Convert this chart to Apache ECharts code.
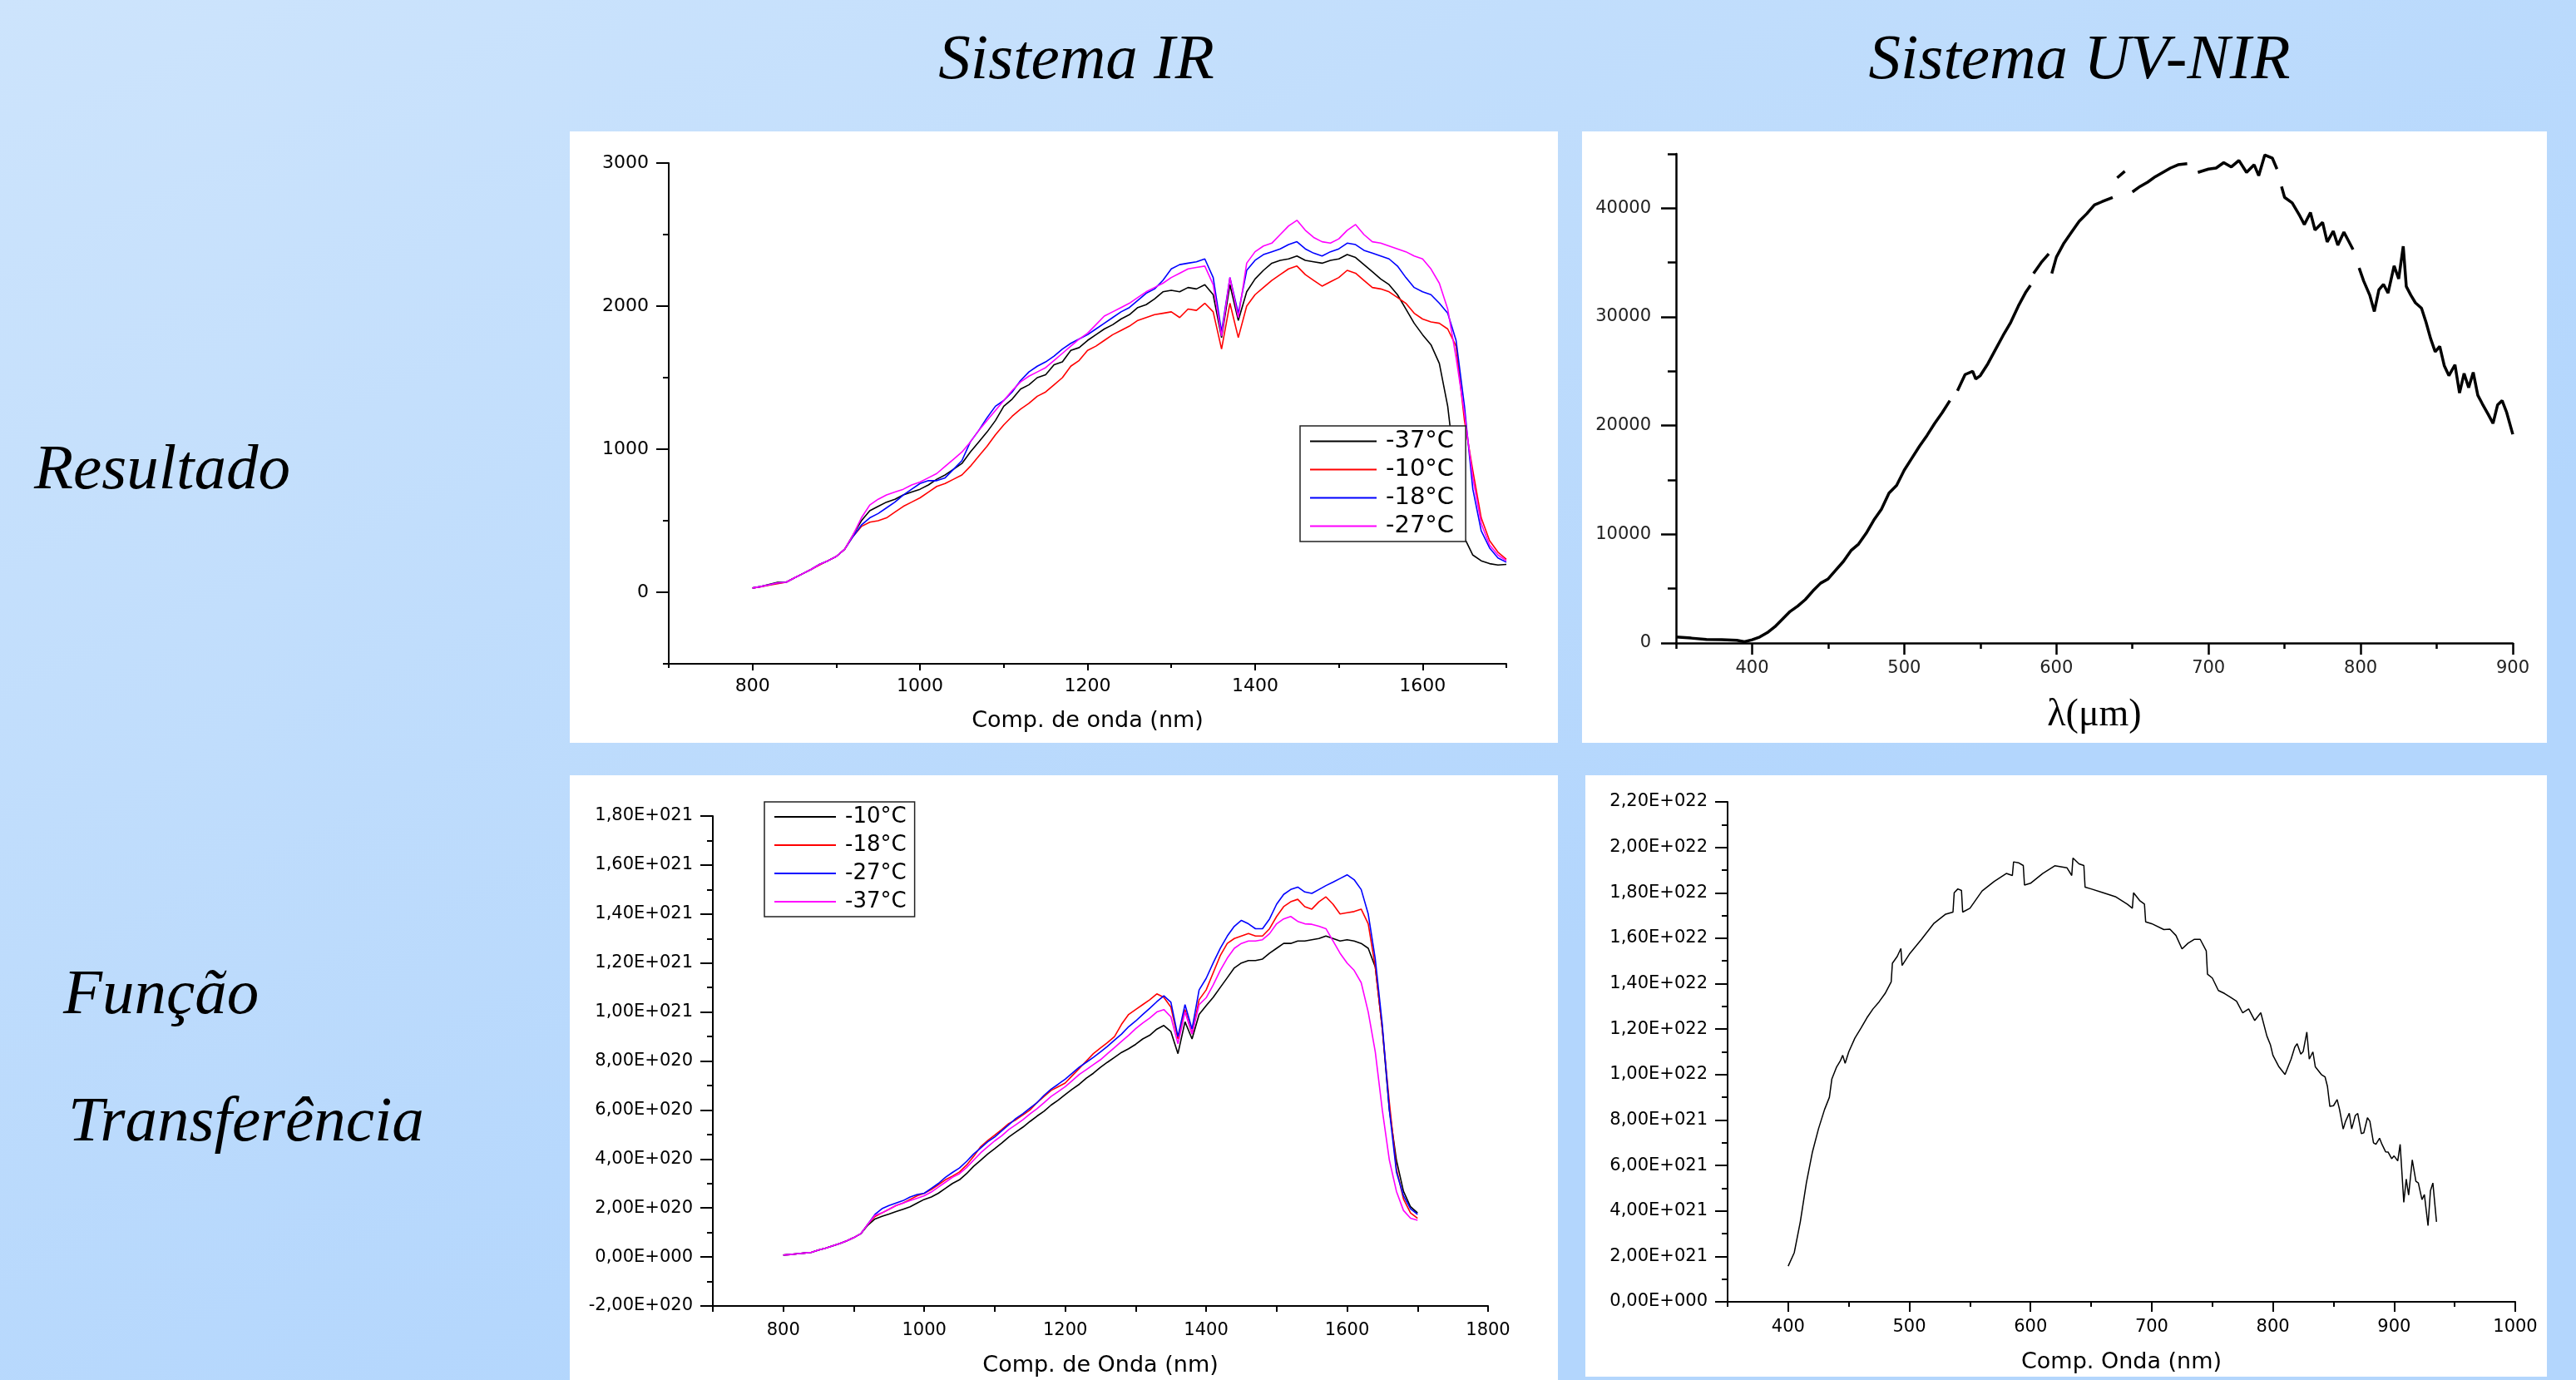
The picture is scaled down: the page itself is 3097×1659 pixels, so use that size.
<!DOCTYPE html>
<html>
<head>
<meta charset="utf-8">
<script src="https://cdn.jsdelivr.net/npm/echarts@6/dist/echarts.min.js"></script>
<style>
html,body{margin:0;padding:0;width:3097px;height:1659px;overflow:hidden;background:#c4dffc}
#c{width:3097px;height:1659px}
</style>
</head>
<body>
<div id="c"></div>
<script>
// ---------------- DATA ----------------
// IR system wavelengths (nm)
const irWavelength = [800,810,820,830,840,850,860,870,880,890,900,910,920,930,940,950,960,970,980,990,
1000,1010,1020,1030,1040,1050,1060,1070,1080,1090,1100,1110,1120,1130,1140,1150,1160,1170,1180,1190,
1200,1210,1220,1230,1240,1250,1260,1270,1280,1290,1300,1310,1320,1330,1340,1350,1360,1370,1380,1390,
1400,1410,1420,1430,1440,1450,1460,1470,1480,1490,1500,1510,1520,1530,1540,1550,1560,1570,1580,1590,
1600,1610,1620,1630,1640,1650,1660,1670,1680,1690,1700];

// Resultado – Sistema IR (counts)
const resIR_m37 = [30,40,55,70,70,100,130,160,195,220,
250,300,400,500,570,600,630,650,680,700,
720,750,790,820,860,900,980,1050,1120,1200,
1300,1350,1420,1450,1500,1520,1590,1610,1690,1710,
1760,1800,1840,1870,1910,1940,1990,2010,2050,2100,
2110,2100,2130,2120,2150,2080,1780,2150,1900,2100,
2190,2250,2300,2320,2330,2350,2320,2310,2300,2320,
2330,2360,2340,2290,2240,2190,2150,2080,1980,1880,
1800,1730,1600,1300,800,380,260,220,200,190,195];
const resIR_m10 = [30,38,50,60,70,100,130,160,190,220,
250,300,390,460,490,500,520,560,600,630,
660,700,740,760,790,820,880,950,1020,1100,
1170,1230,1280,1320,1370,1400,1450,1500,1580,1620,
1690,1720,1760,1800,1830,1860,1900,1920,1940,1950,
1960,1920,1980,1970,2020,1960,1700,2020,1780,2000,
2080,2130,2180,2220,2260,2280,2220,2180,2140,2170,
2200,2250,2230,2180,2130,2120,2100,2060,2020,1950,
1910,1890,1880,1840,1720,1200,850,520,360,280,230];
const resIR_m18 = [30,40,52,65,70,100,130,160,195,220,
250,300,390,470,520,550,590,630,680,720,
760,780,780,800,860,920,1050,1130,1220,1300,
1340,1400,1480,1540,1580,1610,1650,1700,1740,1770,
1800,1840,1880,1920,1960,1990,2040,2090,2120,2180,
2260,2290,2300,2310,2330,2200,1820,2200,1950,2250,
2320,2360,2380,2400,2430,2450,2400,2370,2350,2380,
2400,2440,2430,2390,2370,2350,2330,2280,2200,2130,
2100,2080,2020,1950,1760,1300,720,430,310,240,210];
const resIR_m27 = [30,40,52,65,70,100,130,160,195,220,
250,300,400,520,610,650,680,700,720,750,
770,800,830,880,930,980,1050,1130,1200,1270,
1340,1410,1470,1510,1540,1570,1620,1670,1720,1770,
1810,1870,1930,1960,1990,2020,2060,2100,2130,2160,
2200,2230,2260,2270,2280,2150,1790,2200,1920,2300,
2380,2420,2440,2500,2560,2600,2530,2480,2450,2440,
2470,2530,2570,2500,2450,2440,2420,2400,2380,2350,
2330,2260,2160,1980,1640,1250,800,480,330,260,220];

// Função Transferência – Sistema IR (units of 1E+020)
const tfIR_m10 = [0.08,0.10,0.13,0.16,0.19,0.28,0.36,0.45,0.55,0.66,
0.79,0.95,1.30,1.55,1.66,1.75,1.85,1.95,2.05,2.20,
2.35,2.45,2.60,2.80,3.00,3.15,3.40,3.70,3.95,4.20,
4.42,4.65,4.90,5.10,5.30,5.53,5.75,5.95,6.20,6.40,
6.63,6.85,7.05,7.30,7.50,7.74,7.95,8.15,8.35,8.50,
8.68,8.90,9.05,9.30,9.45,9.20,8.30,9.60,8.90,9.90,
10.26,10.60,11.00,11.40,11.80,12.00,12.10,12.10,12.16,12.40,
12.60,12.80,12.80,12.90,12.90,12.95,13.00,13.10,13.00,12.90,
12.95,12.90,12.80,12.60,11.84,9.30,6.00,3.95,2.68,2.05,1.80];
const tfIR_m18 = [0.08,0.10,0.13,0.16,0.19,0.28,0.36,0.45,0.55,0.66,
0.79,0.95,1.34,1.65,1.80,1.95,2.10,2.20,2.35,2.50,
2.60,2.75,2.95,3.15,3.30,3.47,3.75,4.10,4.50,4.75,
4.97,5.20,5.45,5.60,5.80,6.00,6.30,6.55,6.80,6.95,
7.10,7.40,7.70,8.00,8.30,8.53,8.75,9.00,9.50,9.90,
10.10,10.30,10.50,10.74,10.60,10.20,8.90,10.10,9.10,10.50,
10.90,11.60,12.30,12.80,13.00,13.10,13.20,13.10,13.10,13.40,
13.90,14.30,14.50,14.60,14.30,14.20,14.50,14.70,14.40,14.00,
14.05,14.10,14.20,13.60,11.84,9.30,6.30,3.60,2.37,1.80,1.58];
const tfIR_m27 = [0.08,0.10,0.13,0.16,0.19,0.28,0.36,0.45,0.55,0.66,
0.79,0.95,1.34,1.74,1.97,2.10,2.20,2.30,2.45,2.55,
2.60,2.80,3.00,3.25,3.45,3.63,3.90,4.20,4.45,4.70,
4.90,5.15,5.40,5.65,5.85,6.08,6.30,6.60,6.85,7.05,
7.26,7.50,7.75,7.95,8.15,8.37,8.60,8.85,9.10,9.40,
9.63,9.90,10.15,10.42,10.66,10.40,9.00,10.30,9.30,10.90,
11.37,12.00,12.60,13.10,13.50,13.74,13.60,13.40,13.40,13.80,
14.40,14.80,15.00,15.10,14.90,14.84,15.00,15.16,15.30,15.45,
15.60,15.40,15.00,14.00,12.16,9.47,6.00,3.47,2.50,1.97,1.74];
const tfIR_m37 = [0.08,0.10,0.13,0.16,0.19,0.28,0.36,0.45,0.55,0.66,
0.79,0.95,1.34,1.70,1.80,1.95,2.10,2.20,2.30,2.40,
2.50,2.65,2.85,3.05,3.25,3.40,3.65,3.95,4.25,4.50,
4.74,4.95,5.20,5.40,5.60,5.84,6.05,6.30,6.55,6.75,
6.95,7.20,7.45,7.65,7.85,8.05,8.30,8.55,8.80,9.05,
9.32,9.55,9.75,10.00,10.10,9.80,8.70,10.00,9.10,10.30,
10.58,11.10,11.70,12.20,12.60,12.80,12.90,12.90,12.95,13.20,
13.60,13.80,13.90,13.70,13.60,13.58,13.50,13.40,12.90,12.40,
12.00,11.70,11.20,10.00,8.37,5.99,3.95,2.68,1.90,1.58,1.50];

// Resultado – Sistema UV-NIR (null = gap in the trace)
const uvResWavelength = [350,360,370,380,390,395,400,405,410,415,420,425,430,435,440,445,450,455,460,465,
470,475,480,485,490,495,500,505,510,515,520,525,530,533,535,540,545,547,550,555,
560,565,570,575,580,583,584,585,590,595,596,597,600,605,610,615,620,625,630,637,
638,640,645,647,650,655,660,665,670,675,680,686,688,693,700,705,710,715,720,725,
730,733,737,742,745,746,748,750,755,760,763,767,770,775,778,782,785,789,792,795,
797,799,802,806,809,812,815,818,822,825,828,830,833,836,840,843,846,849,852,855,
858,862,865,868,871,874,877,880,884,887,890,893,896,900];
const uvResValue = [550,450,330,300,250,120,300,550,950,1500,2200,2900,3400,4000,4800,5500,5900,6700,7500,8500,
9100,10100,11300,12300,13800,14500,15900,17000,18100,19100,20200,21200,22300,null,23200,24700,25000,24300,24600,25700,
27000,28300,29500,31000,32300,32900,null,34000,35000,35800,null,34000,35500,36800,37800,38800,39500,40300,40600,41000,
null,42800,43400,null,41500,42000,42400,42900,43300,43700,44000,44100,null,43300,43600,43700,44200,43800,44400,43300,
44000,43000,44900,44600,43600,null,42000,41000,40500,39300,38500,39600,38000,38700,36900,37900,36600,37800,37000,36200,
null,34500,33300,32000,30500,32500,33000,32200,34700,33500,36500,32800,32000,31300,30800,29500,28000,26800,27300,25500,
24600,25600,23000,24800,23500,24900,22800,22000,21000,20200,21900,22300,21200,19200];

// Função Transferência – Sistema UV-NIR (units of 1E+021)
const uvTfWavelength = [400,405,410,415,420,425,430,434,436,440,443,445,447,450,455,460,465,470,475,480,
485,486,490,493,494,500,510,520,530,536,537,540,543,544,550,560,570,580,585,586,
590,594,595,600,610,620,630,634,635,640,644,645,650,660,670,680,684,685,690,694,
695,700,710,715,720,725,730,735,740,745,746,750,755,760,765,770,775,780,785,790,
795,798,800,805,810,815,818,820,823,825,828,830,833,835,840,843,845,847,850,853,
855,858,860,863,865,868,870,873,875,878,880,883,885,888,890,893,895,898,900,903,
905,908,910,912,915,918,920,923,925,928,930,932,935];
const uvTfValue = [1.57,2.16,3.52,5.23,6.59,7.61,8.46,9.00,9.80,10.34,10.60,10.85,10.50,11.00,11.60,12.04,12.50,12.89,13.20,13.57,
14.08,14.90,15.20,15.55,14.80,15.30,15.95,16.64,17.06,17.15,18.00,18.17,18.10,17.15,17.32,18.08,18.50,18.85,18.76,19.36,
19.32,19.20,18.34,18.42,18.85,19.19,19.10,18.76,19.53,19.27,19.20,18.25,18.17,18.00,17.83,17.49,17.32,18.00,17.66,17.50,
16.72,16.64,16.38,16.40,16.12,15.53,15.78,15.95,15.95,15.44,14.42,14.25,13.70,13.57,13.40,13.23,12.72,12.89,12.38,12.72,
11.70,11.30,10.85,10.34,10.00,10.68,11.20,11.36,10.90,11.02,11.87,10.68,11.00,10.34,10.00,9.90,9.48,8.60,8.63,8.90,
8.46,7.60,7.95,8.30,7.61,8.20,8.29,7.40,7.44,8.10,7.95,7.00,6.93,7.20,6.93,6.60,6.59,6.30,6.42,6.20,
6.93,4.38,5.40,4.70,6.25,5.30,5.23,4.50,4.72,3.35,4.89,5.23,3.52];

// Legend labels
const irResultLegend = ['-37°C','-10°C','-18°C','-27°C'];
const irTfLegend = ['-10°C','-18°C','-27°C','-37°C'];

// Tick values / labels
const tlXLabels = [800,1000,1200,1400,1600];
const tlXMinor  = [700,900,1100,1300,1500,1700];
const tlYLabels = [0,1000,2000,3000];
const tlYMinor  = [-500,500,1500,2500];
const trXLabels = [400,500,600,700,800,900];
const trXMinor  = [350,450,550,650,750,850];
const trYLabels = [0,10000,20000,30000,40000];
const trYMinor  = [5000,15000,25000,35000,45000];
const blXLabels = [800,1000,1200,1400,1600,1800];
const blXMinor  = [700,900,1100,1300,1500,1700];
const blYLabels = [-2e20,0,2e20,4e20,6e20,8e20,1e21,1.2e21,1.4e21,1.6e21,1.8e21];
const blYMinor  = [-1e20,1e20,3e20,5e20,7e20,9e20,1.1e21,1.3e21,1.5e21,1.7e21];
const brXLabels = [400,500,600,700,800,900,1000];
const brXMinor  = [350,450,550,650,750,850,950];
const brYLabels = [0,2e21,4e21,6e21,8e21,1e22,1.2e22,1.4e22,1.6e22,1.8e22,2e22,2.2e22];
const brYMinor  = [1e21,3e21,5e21,7e21,9e21,1.1e22,1.3e22,1.5e22,1.7e22,1.9e22,2.1e22];

// ---------------- BUILD ----------------
const SANS = '"DejaVu Sans", "Liberation Sans", Arial, sans-serif';
const SERIF = '"Liberation Serif", "DejaVu Serif", serif';

function sci(v){
  if (Math.abs(v) < 1) return '0,00E+000';
  const s = v < 0 ? '-' : '';
  const a = Math.abs(v);
  let e = Math.floor(Math.log10(a) + 1e-9);
  let ms = (a / Math.pow(10, e)).toFixed(2);
  if (ms === '10.00') { e++; ms = '1.00'; }
  return s + ms.replace('.', ',') + 'E+' + String(e).padStart(3, '0');
}
function plain(v){ return String(Math.round(v)); }

function axisPair(grid, pos, cfg){
  const lw = cfg.lw || 2;
  const labels = cfg.labels;
  const main = {
    type:'value', gridIndex:grid, position:pos, min:cfg.min, max:cfg.max,
    axisLine:{show:true, onZero:false, lineStyle:{color:'#000', width:lw}},
    axisTick:{show:true, inside:false, length:cfg.majorLen, customValues:cfg.majorTicks || labels, lineStyle:{color:'#000', width:lw}},
    axisLabel:{show:true, customValues:labels, margin:cfg.margin, color:cfg.labelColor || '#000',
      fontSize:cfg.fontSize, fontFamily:SANS,
      formatter:function(v){ return labels.some(function(l){return Math.abs(l-v) <= Math.abs(l)*1e-9+1e-9;}) ? cfg.fmt(v) : ''; }},
    splitLine:{show:false}, minorTick:{show:false}
  };
  if (cfg.name) {
    main.name = cfg.name; main.nameLocation = 'middle'; main.nameGap = cfg.nameGap;
    main.nameTextStyle = {fontSize:cfg.nameSize, fontFamily:cfg.nameFont || SANS, color:'#000'};
  }
  const minor = {
    type:'value', gridIndex:grid, position:pos, min:cfg.min, max:cfg.max,
    axisLine:{show:false, onZero:false},
    axisTick:{show:true, inside:false, length:cfg.minorLen, customValues:cfg.minor, lineStyle:{color:'#000', width:lw}},
    axisLabel:{show:false}, splitLine:{show:false}
  };
  return [main, minor];
}

const grids = [
  {left:804,  top:196, width:1007, height:602},   // TL
  {left:2015, top:185, width:1006, height:588},   // TR
  {left:857,  top:981, width:932,  height:589},   // BL
  {left:2077, top:964, width:947,  height:601}    // BR
];

const xAxes = [].concat(
  axisPair(0,'bottom',{min:700,max:1700,labels:tlXLabels,minor:tlXMinor,majorLen:8,minorLen:5,margin:16,fontSize:22,fmt:plain,
    name:'Comp. de onda (nm)',nameGap:55,nameSize:27}),
  axisPair(1,'bottom',{min:350,max:900,labels:trXLabels,minor:trXMinor,majorLen:14,minorLen:7,margin:20,fontSize:21,fmt:plain,lw:2.5,labelColor:'#222',
    name:'λ(μm)',nameGap:64,nameSize:46,nameFont:SERIF}),
  axisPair(2,'bottom',{min:700,max:1800,labels:blXLabels,minor:blXMinor,majorLen:7,minorLen:7,margin:19,fontSize:21,fmt:plain,
    name:'Comp. de Onda (nm)',nameGap:58,nameSize:27}),
  axisPair(3,'bottom',{min:350,max:1000,labels:brXLabels,minor:brXMinor,majorLen:12,minorLen:6,margin:20,fontSize:21,fmt:plain,
    name:'Comp. Onda (nm)',nameGap:59,nameSize:27})
);
const yAxes = [].concat(
  axisPair(0,'left',{min:-500,max:3000,labels:tlYLabels,minor:tlYMinor,majorLen:15,minorLen:7,margin:24,fontSize:22,fmt:plain}),
  axisPair(1,'left',{min:0,max:45000,labels:trYLabels,minor:trYMinor,majorLen:18,minorLen:10,margin:30,fontSize:21,fmt:plain,lw:2.5,labelColor:'#222'}),
  axisPair(2,'left',{min:-2e20,max:1.8e21,labels:blYLabels,minor:blYMinor,majorLen:15,minorLen:7,margin:24,fontSize:21,fmt:sci}),
  axisPair(3,'left',{min:0,max:2.2e22,labels:brYLabels,minor:brYMinor,majorLen:15,minorLen:7,margin:24,fontSize:21,fmt:sci})
);

function zip(xs, ys, scale){
  return xs.map(function(x,i){ const y = ys[i]; return [x, (y === null || y === undefined) ? '-' : y * (scale || 1)]; });
}
function lineSeries(name, grid, xs, ys, color, width, scale){
  return {type:'line', name:name, xAxisIndex:grid*2, yAxisIndex:grid*2, data:zip(xs, ys, scale),
    symbol:'none', showSymbol:false, connectNulls:false, silent:true,
    lineStyle:{color:color, width:width}, itemStyle:{color:color}, z:3};
}

const series = [
  lineSeries('R|' + irResultLegend[0], 0, irWavelength, resIR_m37, '#000000', 1.6),
  lineSeries('R|' + irResultLegend[1], 0, irWavelength, resIR_m10, '#ff0000', 1.6),
  lineSeries('R|' + irResultLegend[2], 0, irWavelength, resIR_m18, '#0000ff', 1.6),
  lineSeries('R|' + irResultLegend[3], 0, irWavelength, resIR_m27, '#ff00ff', 1.6),
  lineSeries('UVR', 1, uvResWavelength, uvResValue, '#000000', 3.5),
  lineSeries('T|' + irTfLegend[0], 2, irWavelength, tfIR_m10, '#000000', 1.6, 1e20),
  lineSeries('T|' + irTfLegend[1], 2, irWavelength, tfIR_m18, '#ff0000', 1.6, 1e20),
  lineSeries('T|' + irTfLegend[2], 2, irWavelength, tfIR_m27, '#0000ff', 1.6, 1e20),
  lineSeries('T|' + irTfLegend[3], 2, irWavelength, tfIR_m37, '#ff00ff', 1.6, 1e20),
  lineSeries('UVT', 3, uvTfWavelength, uvTfValue, '#000000', 1.5, 1e21)
];

const legends = [
  {show:true, orient:'vertical', left:1563, top:512, selectedMode:false,
   data:irResultLegend.map(function(n){return 'R|'+n;}),
   formatter:function(n){return n.split('|')[1];},
   icon:'rect',
   backgroundColor:'#ffffff', borderColor:'#222', borderWidth:1.5, borderRadius:0,
   padding:[4,14,4,12], itemGap:5, itemWidth:80, itemHeight:2,
   textStyle:{fontSize:29, lineHeight:29, fontFamily:SANS, color:'#000', padding:[0,0,0,6]}},
  {show:true, orient:'vertical', left:919, top:964, selectedMode:false,
   data:irTfLegend.map(function(n){return 'T|'+n;}),
   formatter:function(n){return n.split('|')[1];},
   icon:'rect',
   backgroundColor:'#ffffff', borderColor:'#222', borderWidth:1.5, borderRadius:0,
   padding:[5,10,5,12], itemGap:8, itemWidth:74, itemHeight:2,
   textStyle:{fontSize:26, lineHeight:26, fontFamily:SANS, color:'#000', padding:[0,0,0,6]}}
];

function panel(x,y,w,h){ return {type:'rect', z:-50, silent:true, shape:{x:x,y:y,width:w,height:h}, style:{fill:'#ffffff'}}; }
function label(text,x,y,align){ return {type:'text', z:50, silent:true, style:{text:text, x:x, y:y, fill:'#000',
  font:'italic 77px ' + SERIF, align:align, verticalAlign:'middle', textAlign:align, textVerticalAlign:'middle'}}; }

const graphic = [
  {type:'rect', z:-100, silent:true, shape:{x:0,y:0,width:3097,height:1659},
   style:{fill:{type:'linear',x:0,y:0,x2:0.25,y2:1,colorStops:[{offset:0,color:'#cde4fc'},{offset:0.5,color:'#c0ddfc'},{offset:1,color:'#b3d6fd'}]}}},
  panel(685,158,1188,735),
  panel(1902,158,1160,735),
  panel(685,932,1188,727),
  panel(1906,932,1156,723),
  label('Sistema IR', 1294, 74, 'center'),
  label('Sistema UV-NIR', 2500, 74, 'center'),
  label('Resultado', 41, 567, 'left'),
  label('Função', 76, 1198, 'left'),
  label('Transferência', 82, 1351, 'left')
];

const chart = echarts.init(document.getElementById('c'), null, {renderer:'canvas', width:3097, height:1659});
chart.setOption({
  animation:false,
  backgroundColor:'#c4dffc',
  grid:grids.map(function(g){ return Object.assign({containLabel:false, show:false}, g); }),
  xAxis:xAxes,
  yAxis:yAxes,
  legend:legends,
  series:series,
  graphic:graphic
});
</script>
</body>
</html>
